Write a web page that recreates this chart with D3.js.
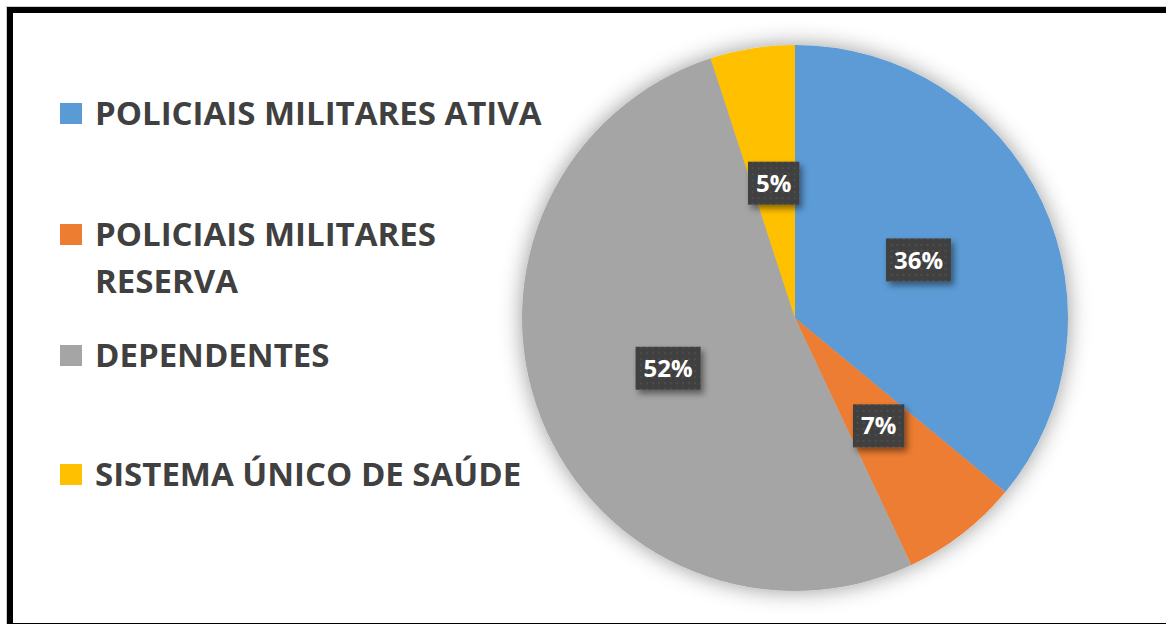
<!DOCTYPE html>
<html>
<head>
<meta charset="utf-8">
<script src="https://cdn.jsdelivr.net/npm/d3@7"></script>
<style>
  html, body { margin: 0; padding: 0; background: #fff; }
  svg { display: block; }
</style>
</head>
<body>
<script>
// Distribution of users by category (percent)
const categories = [
  "POLICIAIS MILITARES ATIVA",
  "POLICIAIS MILITARES RESERVA",
  "DEPENDENTES",
  "SISTEMA ÚNICO DE SAÚDE"
];
const legendLines = [
  ["POLICIAIS MILITARES ATIVA"],
  ["POLICIAIS MILITARES", "RESERVA"],
  ["DEPENDENTES"],
  ["SISTEMA ÚNICO DE SAÚDE"]
];
const values = [36, 7, 52, 5];
const colors = ["#5B9BD5", "#ED7D31", "#A5A5A5", "#FFC000"];

const W = 1166, H = 624;
const svg = d3.select("body").append("svg")
  .attr("width", W).attr("height", H)
  .style("font-family", "'Open Sans', 'DejaVu Sans', sans-serif");

const defs = svg.append("defs");

// soft glow around the pie
const pieShadow = defs.append("filter").attr("id", "pieShadow")
  .attr("x", "-20%").attr("y", "-20%").attr("width", "140%").attr("height", "140%");
pieShadow.append("feDropShadow")
  .attr("dx", 0).attr("dy", 0).attr("stdDeviation", 11)
  .attr("flood-color", "#000").attr("flood-opacity", 0.4);

// shadow under the value boxes
const boxShadow = defs.append("filter").attr("id", "boxShadow")
  .attr("x", "-30%").attr("y", "-30%").attr("width", "170%").attr("height", "170%");
boxShadow.append("feDropShadow")
  .attr("dx", 3).attr("dy", 4).attr("stdDeviation", 3)
  .attr("flood-color", "#000").attr("flood-opacity", 0.45);

// dotted texture of the value boxes
const dots = defs.append("pattern").attr("id", "dots")
  .attr("patternUnits", "userSpaceOnUse").attr("width", 6).attr("height", 6);
dots.append("rect").attr("width", 6).attr("height", 6).attr("fill", "#404040");
dots.append("rect").attr("x", 2).attr("y", 2).attr("width", 2).attr("height", 2)
  .attr("fill", "#4d4d4d");

// frame
svg.append("rect")
  .attr("x", 6.5).attr("y", 6.5).attr("width", W + 20).attr("height", H + 20)
  .attr("fill", "none").attr("stroke", "#cfcfcf").attr("stroke-width", 1);
svg.append("rect")
  .attr("x", 10).attr("y", 10).attr("width", W + 20).attr("height", 616)
  .attr("fill", "none").attr("stroke", "#000").attr("stroke-width", 6);

// pie
const cx = 795, cy = 318, R = 273;
const pie = d3.pie().sort(null).value(d => d)(values);
const arc = d3.arc().innerRadius(0).outerRadius(R);
const labelArc = d3.arc().innerRadius(R * 0.5).outerRadius(R * 0.5);

const g = svg.append("g").attr("transform", `translate(${cx},${cy})`);
g.append("g").attr("filter", "url(#pieShadow)")
  .selectAll("path").data(pie).join("path")
  .attr("d", arc)
  .attr("fill", (d, i) => colors[i]);

// value labels
const labels = g.selectAll("g.lbl").data(pie).join("g")
  .attr("class", "lbl")
  .attr("transform", d => `translate(${labelArc.centroid(d)})`);
labels.each(function (d) {
  const sel = d3.select(this);
  const t = sel.append("text")
    .attr("text-anchor", "middle").attr("dy", "0.36em")
    .attr("fill", "#fff").attr("font-weight", 700).attr("font-size", 24)
    .text(d.data + "%");
  const bw = t.node().getComputedTextLength() + 16;
  const bh = 43;
  sel.insert("rect", "text")
    .attr("x", -bw / 2).attr("y", -bh / 2).attr("width", bw).attr("height", bh)
    .attr("fill", "url(#dots)").attr("filter", "url(#boxShadow)");
});

// legend
const legendY = [125, 246, 367, 486];
const lineGap = 47;
const legend = svg.append("g");
legendLines.forEach((lines, i) => {
  const base = legendY[i];
  legend.append("rect")
    .attr("x", 60).attr("y", base - 22).attr("width", 22).attr("height", 21)
    .attr("fill", colors[i]);
  const t = legend.append("text")
    .attr("x", 95).attr("y", base)
    .attr("fill", "#404040").attr("font-weight", 700).attr("font-size", 33);
  lines.forEach((ln, j) => {
    t.append("tspan").attr("x", 95).attr("y", base + j * lineGap).text(ln);
  });
});
</script>
</body>
</html>
